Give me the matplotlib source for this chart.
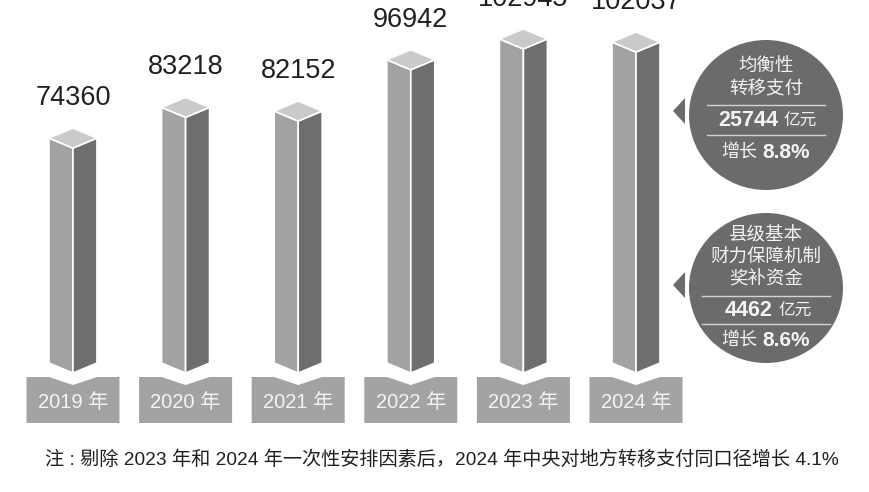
import matplotlib.pyplot as plt
from matplotlib.patches import Polygon, Ellipse

# data
roky = ["2019 年", "2020 年", "2021 年", "2022 年", "2023 年", "2024 年"]
hodnoty = [74360, 83218, 82152, 96942, 102945, 102037]

kruh_nazvy = [["均衡性", "转移支付"], ["县级基本", "财力保障机制", "奖补资金"]]
kruh_castky = ["25744", "4462"]
kruh_rust = ["8.8%", "8.6%"]

poznamka = "注 : 剔除 2023 年和 2024 年一次性安排因素后，2024 年中央对地方转移支付同口径增长 4.1%"

FONT = ["Liberation Sans", "Noto Sans CJK SC"]
FONT_CJK = ["Noto Sans CJK SC", "Liberation Sans"]

fig = plt.figure(figsize=(8.7, 4.92), dpi=100)

# hlavni osy: x = poradi roku, y = hodnota
ax = fig.add_axes([0, 0, 1, 1])
ax.set_xlim(-0.648, 7.078)
ax.set_ylim(-24794, 117050)
ax.axis("off")

PX = 288.3          # hodnota na jeden pixel
w = 0.213           # polovina sirky sloupce
dy = 10 * PX        # sikmost horni plochy
spodek = 9500       # kde sloupec konci nad stitkem
box_w = 0.413
box_hore = 8360
box_dole = -4900
zarez = 6050

for i, v in enumerate(hodnoty):
    leva = [(i - w, v + dy), (i, v), (i, spodek), (i - w, spodek + dy)]
    prava = [(i, v), (i + w, v + dy), (i + w, spodek + dy), (i, spodek)]
    vrch = [(i - w, v + dy), (i, v), (i + w, v + dy), (i, v + 2 * dy)]
    ax.add_patch(Polygon(leva, closed=True, facecolor="#a2a2a2", edgecolor="white", lw=1.2))
    ax.add_patch(Polygon(prava, closed=True, facecolor="#6e6e6e", edgecolor="white", lw=1.2))
    ax.add_patch(Polygon(vrch, closed=True, facecolor="#cacaca", edgecolor="white", lw=1.2))

    ax.text(i, v + 50 * PX, f"{v}", ha="center", va="center",
            fontsize=19.5, color="#231f20", family=FONT)

    # stitek s rokem
    box = [(i - box_w, box_hore), (i - w, box_hore), (i, zarez), (i + w, box_hore),
           (i + box_w, box_hore), (i + box_w, box_dole), (i - box_w, box_dole)]
    ax.add_patch(Polygon(box, closed=True, facecolor="#a3a3a3", edgecolor="none"))
    ax.text(i, 1150, roky[i], ha="center", va="center", fontsize=14.5,
            color="#f4f4f4", family=FONT)

ax.text(-0.248, -15568, poznamka, ha="left", va="center",
        fontsize=13.8, color="#231f20", family=FONT)

# kruhy vpravo, v pixelovych souradnicich
ax2 = fig.add_axes([0, 0, 1, 1], facecolor="none")
ax2.set_xlim(0, 870)
ax2.set_ylim(492, 0)
ax2.axis("off")

kruh_y = [115, 288]
sipka_y = [111, 285]
cx = 766
sedy = "#6b6b6b"

# radky textu v kazdem kruhu
nazvy_y = [[67, 89], [235, 258, 280]]
cara1 = [105, 296]
castka_y = [120, 310]
cara2 = [135, 324]
rust_y = [152, 340]
castka_pravy = [778, 773]

for k in range(2):
    cy = kruh_y[k]
    sy = sipka_y[k]
    ax2.add_patch(Ellipse((cx, cy), 154, 150, facecolor=sedy, edgecolor="none"))
    ax2.add_patch(Polygon([(673, sy), (685, sy - 13), (685, sy + 13)],
                          closed=True, facecolor=sedy, edgecolor="none"))

    for txt, yy in zip(kruh_nazvy[k], nazvy_y[k]):
        ax2.text(cx, yy, txt, ha="center", va="center", fontsize=13.3,
                 color="#f4f4f4", family=FONT_CJK)

    x0, x1 = (707, 825) if k == 0 else (702, 830)
    ax2.plot([x0, x1], [cara1[k], cara1[k]], color="#d4d4d4", lw=1)
    ax2.plot([x0, x1], [cara2[k], cara2[k]], color="#d4d4d4", lw=1)

    ax2.text(castka_pravy[k], castka_y[k], kruh_castky[k], ha="right", va="center",
             fontsize=15.5, fontweight="bold", color="#f4f4f4", family=FONT)
    ax2.text(castka_pravy[k] + 5, castka_y[k] + 1, "亿元", ha="left", va="center",
             fontsize=12, color="#f4f4f4", family=FONT_CJK)

    ax2.text(757, rust_y[k], "增长", ha="right", va="center", fontsize=13,
             color="#f4f4f4", family=FONT_CJK)
    ax2.text(762, rust_y[k], kruh_rust[k], ha="left", va="center", fontsize=15,
             fontweight="bold", color="#f4f4f4", family=FONT)

fig.savefig("out.png", dpi=100, facecolor="white")
